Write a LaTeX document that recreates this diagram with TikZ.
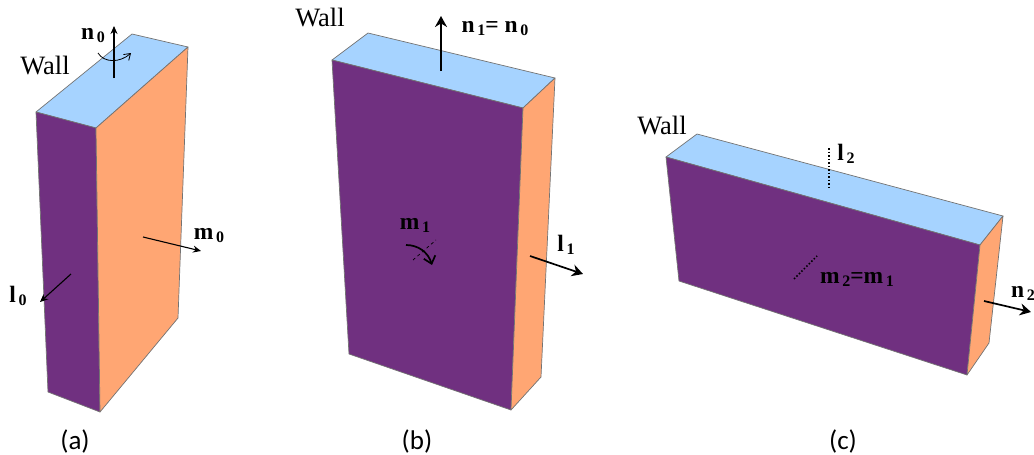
\documentclass[tikz,border=0pt]{standalone}
\usepackage{fontspec}
\setmainfont{Liberation Serif}
\newfontfamily\capfont{Carlito}
\usetikzlibrary{arrows.meta}
\definecolor{topblue}{HTML}{A6D3FF}
\definecolor{wallpurple}{HTML}{703080}
\definecolor{sideorange}{HTML}{FFA673}
\newcommand{\subnum}[1]{\raisebox{-3pt}{\fontsize{16}{16}\selectfont\,\textbf{#1}}}
\newcommand{\vv}[2]{\textbf{#1}\subnum{#2}}
\tikzset{
  face/.style={draw=black!55,line width=.7pt,line join=round},
  topface/.style={face,fill=topblue},
  frontface/.style={face,fill=wallpurple},
  sideface/.style={face,fill=sideorange},
  lab/.style={inner sep=0pt,font=\fontsize{23.5}{24}\selectfont},
  walllab/.style={inner sep=0pt,font=\fontsize{26.5}{27}\selectfont},
  caplab/.style={inner sep=0pt,font=\capfont\fontsize{27}{28}\selectfont},
  vec/.style={-{Stealth[length=8pt,width=7pt]},line width=1.1pt,black},
  vecb/.style={-{Stealth[length=11pt,width=12pt]},line width=1.7pt,black},
  hidden/.style={black,line width=1.5pt,dotted},
}
\begin{document}
\begin{tikzpicture}[x=1pt,y=-1pt]
\useasboundingbox (0,0) rectangle (1034,455);
% (a)
\draw[topface] (36,112)--(132,34)--(188,47)--(96,128)--cycle;
\draw[frontface] (36,112)--(96,128)--(100,412)--(48,392)--cycle;
\draw[sideface] (96,128)--(188,47)--(178,318)--(100,412)--cycle;
% (b)
\draw[topface] (332,60)--(368,33)--(555,78)--(523,108)--cycle;
\draw[frontface] (332,60)--(523,108)--(511,410)--(349,354)--cycle;
\draw[sideface] (523,108)--(555,78)--(541,377)--(511,410)--cycle;
% (c)
\draw[topface] (666,157)--(697,134)--(1003,216)--(980,245)--cycle;
\draw[frontface] (666,157)--(980,245)--(967,375)--(679,281)--cycle;
\draw[sideface] (980,245)--(1003,216)--(989,343)--(967,375)--cycle;
% connector ends
\coordinate (n0a) at (114,78); \coordinate (n0b) at (114,26);
\coordinate (r0a) at (98,53);  \coordinate (r0b) at (131,53);
\coordinate (m0a) at (143,237); \coordinate (m0b) at (201,251);
\coordinate (l0a) at (71,274); \coordinate (l0b) at (40,302);
\coordinate (n1a) at (441,71); \coordinate (n1b) at (441,16);
\coordinate (l1a) at (530,256); \coordinate (l1b) at (583,274);
\coordinate (d1a) at (413,260); \coordinate (d1b) at (436,240);
\coordinate (r1a) at (406,245); \coordinate (r1b) at (432,265);
\coordinate (l2a) at (829,148); \coordinate (l2b) at (829,187);
\coordinate (m2a) at (794,279); \coordinate (m2b) at (817,256);
\coordinate (n2a) at (984,301); \coordinate (n2b) at (1031,312);
% connectors
\draw[vec] (n0a)--(n0b);
\draw[-{Straight Barb[length=6pt,width=8pt]},line width=.8pt] (r0a) .. controls (104,63) and (120,63) .. (r0b);
\draw[vec] (m0a)--(m0b);
\draw[vec] (l0a)--(l0b);
\draw[vecb] (n1a)--(n1b);
\draw[vecb] (l1a)--(l1b);
\draw[black,line width=.7pt,dashed] (d1a)--(d1b);
\draw[-{Straight Barb[length=7pt,width=12pt]},line width=1.7pt] (r1a) .. controls (418,245) and (428,252) .. (r1b);
\draw[hidden] (l2a)--(l2b);
\draw[hidden] (m2a)--(m2b);
\draw[vecb] (n2a)--(n2b);
% labels
\node[walllab] (wa) at (45,66) {Wall};
\node[walllab] (wb) at (320,18) {Wall};
\node[walllab] (wc) at (662,126) {Wall};
\node[lab] (ln0) at (93,36) {\vv{n}{0}};
\node[lab] (lm0) at (209,236) {\vv{m}{0}};
\node[lab] (ll0) at (18,296) {\vv{l}{0}};
\node[lab] (ln1) at (495,29) {\vv{n}{1}\textbf{= n}\subnum{0}};
\node[lab] (lm1) at (415,225) {\vv{m}{1}};
\node[lab] (ll1) at (566,245) {\vv{l}{1}};
\node[lab] (ll2) at (846,154) {\vv{l}{2}};
\node[lab] (lm2) at (857,279) {\vv{m}{2}\textbf{=m}\subnum{1}};
\node[lab] (ln2) at (1023,293) {\vv{n}{2}};
\node[caplab] (ca) at (75,441) {(a)};
\node[caplab] (cb) at (417,441) {(b)};
\node[caplab] (cc) at (843,441) {(c)};
\end{tikzpicture}
\end{document}
